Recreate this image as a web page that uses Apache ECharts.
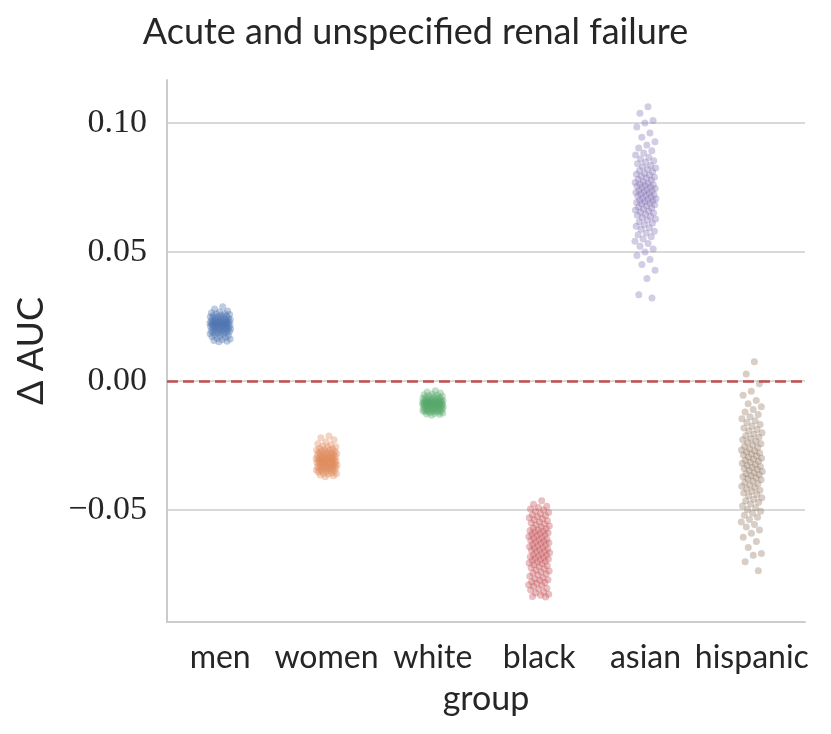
<!DOCTYPE html>
<html><head><meta charset="utf-8">
<script src="https://cdn.jsdelivr.net/npm/echarts@6/dist/echarts.min.js"></script>
<style>html,body{margin:0;padding:0;background:#fff}#c{width:831px;height:734px}</style>
</head><body><div id="c"></div>
<script>
const categories = ['men','women','white','black','asian','hispanic'];
const yTicks = [-0.05, 0.00, 0.05, 0.10];
const refValue = 0;

const men = [0.0288,0.0279,0.0272,0.0268,0.0265,0.0262,0.0260,0.0258,0.0256,0.0254,
0.0252,0.0250,0.0249,0.0247,0.0246,0.0244,0.0243,0.0242,0.0240,0.0239,
0.0238,0.0237,0.0235,0.0234,0.0233,0.0232,0.0231,0.0230,0.0229,0.0228,
0.0227,0.0226,0.0225,0.0224,0.0223,0.0222,0.0221,0.0220,0.0219,0.0218,
0.0217,0.0216,0.0215,0.0214,0.0213,0.0212,0.0211,0.0210,0.0209,0.0208,
0.0207,0.0206,0.0204,0.0203,0.0202,0.0201,0.0199,0.0198,0.0197,0.0195,
0.0194,0.0192,0.0191,0.0189,0.0188,0.0186,0.0185,0.0183,0.0181,0.0179,
0.0177,0.0175,0.0172,0.0169,0.0166,0.0163,0.0160,0.0157,0.0154,0.0152];

const women = [-0.0213,-0.0220,-0.0228,-0.0236,-0.0243,-0.0248,-0.0252,-0.0255,-0.0258,-0.0261,
-0.0263,-0.0265,-0.0267,-0.0269,-0.0271,-0.0273,-0.0275,-0.0277,-0.0278,-0.0280,
-0.0281,-0.0283,-0.0284,-0.0286,-0.0287,-0.0289,-0.0290,-0.0292,-0.0293,-0.0294,
-0.0296,-0.0297,-0.0298,-0.0300,-0.0301,-0.0302,-0.0303,-0.0305,-0.0306,-0.0307,
-0.0308,-0.0310,-0.0311,-0.0312,-0.0313,-0.0315,-0.0316,-0.0317,-0.0318,-0.0320,
-0.0321,-0.0322,-0.0324,-0.0325,-0.0326,-0.0328,-0.0329,-0.0330,-0.0332,-0.0333,
-0.0334,-0.0336,-0.0337,-0.0339,-0.0340,-0.0342,-0.0343,-0.0345,-0.0346,-0.0348,
-0.0349,-0.0351,-0.0353,-0.0355,-0.0357,-0.0359,-0.0361,-0.0364,-0.0367,-0.0371];

const white = [-0.0038,-0.0042,-0.0046,-0.0050,-0.0053,-0.0055,-0.0057,-0.0059,-0.0061,-0.0063,
-0.0064,-0.0066,-0.0067,-0.0068,-0.0070,-0.0071,-0.0072,-0.0073,-0.0074,-0.0075,
-0.0076,-0.0077,-0.0078,-0.0078,-0.0079,-0.0080,-0.0081,-0.0081,-0.0082,-0.0083,
-0.0083,-0.0084,-0.0085,-0.0085,-0.0086,-0.0087,-0.0087,-0.0088,-0.0089,-0.0089,
-0.0090,-0.0091,-0.0091,-0.0092,-0.0093,-0.0093,-0.0094,-0.0095,-0.0096,-0.0096,
-0.0097,-0.0098,-0.0099,-0.0100,-0.0101,-0.0102,-0.0103,-0.0104,-0.0105,-0.0106,
-0.0107,-0.0108,-0.0109,-0.0110,-0.0111,-0.0112,-0.0113,-0.0114,-0.0115,-0.0116,
-0.0117,-0.0118,-0.0119,-0.0120,-0.0122,-0.0124,-0.0126,-0.0128,-0.0130,-0.0133];

const black = [-0.0464,-0.0478,-0.0485,-0.0490,-0.0496,-0.0500,-0.0505,-0.0510,-0.0514,-0.0518,
-0.0522,-0.0526,-0.0530,-0.0534,-0.0538,-0.0542,-0.0546,-0.0550,-0.0554,-0.0558,
-0.0562,-0.0566,-0.0570,-0.0573,-0.0576,-0.0579,-0.0582,-0.0585,-0.0588,-0.0591,
-0.0594,-0.0597,-0.0600,-0.0603,-0.0606,-0.0609,-0.0612,-0.0615,-0.0618,-0.0621,
-0.0624,-0.0627,-0.0630,-0.0633,-0.0636,-0.0639,-0.0642,-0.0645,-0.0648,-0.0651,
-0.0654,-0.0657,-0.0660,-0.0663,-0.0666,-0.0669,-0.0672,-0.0675,-0.0678,-0.0681,
-0.0684,-0.0687,-0.0690,-0.0693,-0.0696,-0.0699,-0.0702,-0.0705,-0.0708,-0.0712,
-0.0716,-0.0720,-0.0724,-0.0728,-0.0732,-0.0736,-0.0740,-0.0744,-0.0748,-0.0752,
-0.0757,-0.0762,-0.0767,-0.0770,-0.0772,-0.0778,-0.0781,-0.0784,-0.0790,-0.0792,
-0.0796,-0.0803,-0.0806,-0.0810,-0.0818,-0.0822,-0.0826,-0.0830,-0.0835,-0.0837];

const asian = [0.1063,0.1038,0.1010,0.1000,0.0985,0.0962,0.0945,0.0928,0.0915,0.0903,
0.0893,0.0884,0.0876,0.0868,0.0861,0.0854,0.0848,0.0842,0.0836,0.0831,
0.0826,0.0821,0.0816,0.0811,0.0806,0.0802,0.0798,0.0794,0.0790,0.0786,
0.0782,0.0778,0.0774,0.0770,0.0767,0.0764,0.0761,0.0758,0.0755,0.0752,
0.0749,0.0746,0.0743,0.0740,0.0737,0.0734,0.0731,0.0728,0.0725,0.0722,
0.0719,0.0716,0.0713,0.0710,0.0707,0.0704,0.0701,0.0698,0.0695,0.0692,
0.0689,0.0686,0.0683,0.0679,0.0675,0.0671,0.0667,0.0663,0.0659,0.0655,
0.0651,0.0647,0.0643,0.0638,0.0633,0.0628,0.0623,0.0618,0.0612,0.0606,
0.0600,0.0594,0.0588,0.0581,0.0574,0.0567,0.0559,0.0551,0.0542,0.0533,
0.0523,0.0512,0.0500,0.0487,0.0471,0.0452,0.0430,0.0398,0.0335,0.0322];

const hispanic = [0.0075,0.0027,-0.0010,-0.0040,-0.0055,-0.0075,-0.0088,-0.0100,-0.0110,-0.0120,
-0.0130,-0.0138,-0.0146,-0.0154,-0.0161,-0.0168,-0.0175,-0.0182,-0.0188,-0.0194,
-0.0200,-0.0206,-0.0212,-0.0218,-0.0223,-0.0228,-0.0233,-0.0238,-0.0243,-0.0248,
-0.0253,-0.0258,-0.0263,-0.0267,-0.0271,-0.0275,-0.0279,-0.0283,-0.0287,-0.0291,
-0.0295,-0.0299,-0.0303,-0.0307,-0.0311,-0.0315,-0.0319,-0.0323,-0.0327,-0.0331,
-0.0335,-0.0339,-0.0343,-0.0347,-0.0351,-0.0355,-0.0359,-0.0363,-0.0367,-0.0371,
-0.0375,-0.0379,-0.0383,-0.0388,-0.0393,-0.0398,-0.0403,-0.0408,-0.0413,-0.0418,
-0.0423,-0.0428,-0.0434,-0.0440,-0.0446,-0.0452,-0.0458,-0.0464,-0.0470,-0.0477,
-0.0484,-0.0491,-0.0498,-0.0505,-0.0512,-0.0520,-0.0528,-0.0537,-0.0546,-0.0556,
-0.0566,-0.0577,-0.0590,-0.0605,-0.0622,-0.0645,-0.0668,-0.0675,-0.0700,-0.0735];

const groups = [men, women, white, black, asian, hispanic];
const palette = ['#4c72b0','#dd8452','#55a868','#c44e52','#8172b3','#937860'];
const textColor = '#262626';
const sans = "Lato, 'Noto Sans', sans-serif";
const serif = "'Liberation Serif', serif";

const series = groups.map((vals, gi) => ({
  type: 'scatter',
  xAxisIndex: 1,
  yAxisIndex: 0,
  symbolSize: 7,
  silent: true,
  itemStyle: { color: palette[gi], opacity: 0.36, borderWidth: 0 },
  data: vals.map((v, i) => [gi + ((((i + 1) * 0.6180339887) % 1) - 0.5) * 0.2, v])
}));
series.push({
  type: 'scatter', xAxisIndex: 1, yAxisIndex: 0, data: [], silent: true,
  markLine: {
    silent: true, symbol: 'none', animation: false,
    label: { show: false },
    lineStyle: { color: '#c44e52', type: [11, 5], width: 2.6 },
    data: [{ yAxis: refValue }]
  }
});

const chart = echarts.init(document.getElementById('c'));
chart.setOption({
  animation: false,
  backgroundColor: '#fff',
  title: {
    text: 'Acute and unspecified renal failure',
    left: 'center', top: 9,
    textStyle: { fontFamily: sans, fontSize: 36, fontWeight: 'normal', color: textColor }
  },
  grid: { left: 167, right: 26, top: 80, bottom: 112, containLabel: false, outerBoundsMode: 'none' },
  xAxis: [{
    type: 'category', data: categories, boundaryGap: true,
    axisLine: { show: true, onZero: false, lineStyle: { color: '#cccccc', width: 2 } },
    axisTick: { show: false },
    axisLabel: { fontFamily: sans, fontSize: 32, color: textColor, margin: 20, interval: 0 },
    name: 'group', nameLocation: 'middle', nameGap: 60,
    nameTextStyle: { fontFamily: sans, fontSize: 34, color: textColor },
    splitLine: { show: false }
  }, {
    type: 'value', min: -0.5, max: 5.5, show: false,
    axisLine: { onZero: false }
  }],
  yAxis: [{
    type: 'value', min: -0.0934, max: 0.1167,
    axisLine: { show: true, onZero: false, lineStyle: { color: '#cccccc', width: 2 } },
    axisTick: { show: false },
    axisLabel: {
      customValues: yTicks,
      fontFamily: serif, fontSize: 34, color: textColor, margin: 20,
      formatter: v => v.toFixed(2).replace('-', '\u2212')
    },
    splitLine: { show: true, showMinLine: false, showMaxLine: false, lineStyle: { color: '#cccccc', width: 1.6 } },
    name: '\u0394 AUC', nameLocation: 'middle', nameRotate: 90, nameGap: 118,
    nameTextStyle: { fontFamily: sans, fontSize: 36, color: textColor }
  }],
  series: series
});
</script></body></html>
